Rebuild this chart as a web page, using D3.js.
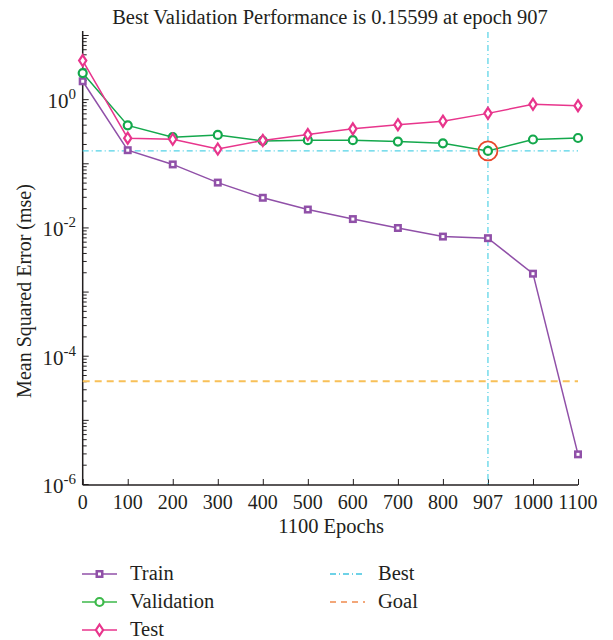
<!DOCTYPE html>
<html>
<head>
<meta charset="utf-8">
<script src="https://cdnjs.cloudflare.com/ajax/libs/d3/7.8.5/d3.min.js"></script>
<style>
  body { margin: 0; background: #fff; }
  text { font-family: "Liberation Serif", "DejaVu Serif", serif; fill: #231f20; }
</style>
</head>
<body>
<script>
var width = 613;
var height = 640;

// data
var epochs = ["0", "100", "200", "300", "400", "500", "600", "700", "800", "907", "1000", "1100"];
var train = [1.9, 0.16, 0.096, 0.05, 0.029, 0.019, 0.0135, 0.0098, 0.0072, 0.0068, 0.0019, 0.0000029];
var validation = [2.55, 0.39, 0.255, 0.277, 0.223, 0.229, 0.229, 0.218, 0.205, 0.15599, 0.235, 0.248];
var test = [4.0, 0.246, 0.237, 0.167, 0.227, 0.28, 0.344, 0.40, 0.453, 0.60, 0.83, 0.79];
var bestEpoch = "907";
var bestValue = 0.15599;
var goalValue = 0.00004;
var yLabels = [1, 1e-2, 1e-4, 1e-6];

var colTrain = "#9050a8";
var colVal = "#14a84c";
var colTest = "#e8358c";
var colBest = "#52d2e6";
var colGoal = "#f8c058";

var svg = d3.select("body").append("svg")
    .attr("width", width)
    .attr("height", height);

var x = d3.scalePoint().domain(epochs).range([82.7, 578]);
var y = d3.scaleLog().domain([1e-6, 10]).range([484, 35]);

// log ticks (major + minor)
var logTicks = [];
for (var e = -6; e <= 0; e++) {
  for (var m = 1; m <= 9; m++) {
    logTicks.push(m * Math.pow(10, e));
  }
}
logTicks.push(10);

svg.append("g")
    .attr("transform", "translate(82.7,0)")
    .call(d3.axisLeft(y).tickValues(logTicks).tickSize(0).tickFormat(""))
    .call(function(g) {
      g.select(".domain").attr("d", "M0,31V485").attr("stroke", "#231f20").attr("stroke-width", 1.5);
      g.selectAll(".tick line")
        .attr("x2", function(d) { return (Math.abs(Math.log10(d) - Math.round(Math.log10(d))) < 1e-9) ? 6 : 4; })
        .attr("stroke", "#231f20");
    });

svg.append("g")
    .attr("transform", "translate(0,485)")
    .call(d3.axisBottom(x).tickSize(0).tickPadding(0).tickFormat(""))
    .call(function(g) {
      g.select(".domain").attr("d", "M82.7,0H578").attr("stroke", "#231f20").attr("stroke-width", 1.5);
      g.selectAll(".tick line").attr("y2", -6).attr("stroke", "#231f20");
    });

// x tick labels
svg.append("g").selectAll("text")
    .data(epochs)
    .enter().append("text")
    .attr("x", function(d) { return x(d); })
    .attr("y", 509)
    .attr("text-anchor", "middle")
    .style("font-size", "20px")
    .text(function(d) { return d; });

// y tick labels with superscript
var yl = svg.append("g").selectAll("text")
    .data(yLabels)
    .enter().append("text")
    .attr("x", 76)
    .attr("y", function(d) { return y(d) + 9; })
    .attr("text-anchor", "end")
    .style("font-size", "21px");
yl.append("tspan").text("10");
yl.append("tspan")
    .attr("dy", -9)
    .style("font-size", "15px")
    .text(function(d) { return String(Math.round(Math.log10(d))); });

// title and axis labels
svg.append("text")
    .attr("x", 330)
    .attr("y", 24)
    .attr("text-anchor", "middle")
    .style("font-size", "20.5px")
    .text("Best Validation Performance is " + bestValue + " at epoch " + bestEpoch);

svg.append("text")
    .attr("x", 331)
    .attr("y", 533)
    .attr("text-anchor", "middle")
    .style("font-size", "20.5px")
    .text("1100 Epochs");

svg.append("text")
    .attr("transform", "translate(31,291) rotate(-90)")
    .attr("text-anchor", "middle")
    .style("font-size", "20px")
    .text("Mean Squared Error (mse)");

// best and goal lines
svg.append("line")
    .attr("x1", x("0")).attr("x2", x("1100"))
    .attr("y1", y(bestValue)).attr("y2", y(bestValue))
    .attr("stroke", colBest).attr("stroke-width", 1.2)
    .style("stroke-dasharray", "6,3,1,3");
svg.append("line")
    .attr("x1", x(bestEpoch)).attr("x2", x(bestEpoch))
    .attr("y1", 32).attr("y2", 485)
    .attr("stroke", colBest).attr("stroke-width", 1.2)
    .style("stroke-dasharray", "6,3,1,3");
svg.append("line")
    .attr("x1", x("0")).attr("x2", x("1100"))
    .attr("y1", y(goalValue)).attr("y2", y(goalValue))
    .attr("stroke", colGoal).attr("stroke-width", 1.8)
    .style("stroke-dasharray", "7,5");

var line = d3.line()
    .x(function(d, i) { return x(epochs[i]); })
    .y(function(d) { return y(d); });

function drawSeries(vals, col, shape) {
  svg.append("path")
      .datum(vals)
      .attr("d", line)
      .attr("fill", "none")
      .attr("stroke", col)
      .attr("stroke-width", 1.5);
  var g = svg.append("g");
  vals.forEach(function(v, i) {
    drawMarker(g, x(epochs[i]), y(v), col, shape);
  });
}

function drawMarker(g, cx, cy, col, shape) {
  if (shape == "square") {
    g.append("rect")
      .attr("x", cx - 2.75).attr("y", cy - 2.75)
      .attr("width", 5.5).attr("height", 5.5)
      .attr("fill", "#fff").attr("stroke", col).attr("stroke-width", 2.5);
  } else if (shape == "circle") {
    g.append("circle")
      .attr("cx", cx).attr("cy", cy).attr("r", 4)
      .attr("fill", "#fff").attr("stroke", col).attr("stroke-width", 2.2);
  } else {
    g.append("path")
      .attr("d", "M" + cx + "," + (cy - 5.5) + "L" + (cx + 3.6) + "," + cy + "L" + cx + "," + (cy + 5.5) + "L" + (cx - 3.6) + "," + cy + "Z")
      .attr("fill", "#fff").attr("stroke", col).attr("stroke-width", 2.2);
  }
}

drawSeries(train, colTrain, "square");
drawSeries(validation, colVal, "circle");
drawSeries(test, colTest, "diamond");

// best point marker
svg.append("circle")
    .attr("cx", x(bestEpoch)).attr("cy", y(bestValue)).attr("r", 9.5)
    .attr("fill", "none").attr("stroke", "#e8472c").attr("stroke-width", 1.8);

// legend
var legendItems = [
  {name: "Train", col: colTrain, shape: "square", dash: null, lx: 82, ly: 574},
  {name: "Validation", col: "#3cb94a", shape: "circle", dash: null, lx: 82, ly: 602},
  {name: "Test", col: colTest, shape: "diamond", dash: null, lx: 82, ly: 630},
  {name: "Best", col: "#3fc3e0", shape: null, dash: "6,3,1,3", lx: 330, ly: 574},
  {name: "Goal", col: "#f08a4e", shape: null, dash: "6,5", lx: 330, ly: 602}
];
var lg = svg.append("g");
legendItems.forEach(function(d) {
  lg.append("line")
    .attr("x1", d.lx).attr("x2", d.lx + 35)
    .attr("y1", d.ly).attr("y2", d.ly)
    .attr("stroke", d.col).attr("stroke-width", 1.5)
    .style("stroke-dasharray", d.dash);
  if (d.shape) drawMarker(lg, d.lx + 17.5, d.ly, d.col, d.shape);
  lg.append("text")
    .attr("x", d.lx + 48)
    .attr("y", d.ly + 6)
    .style("font-size", "20.5px")
    .text(d.name);
});
</script>
</body>
</html>
